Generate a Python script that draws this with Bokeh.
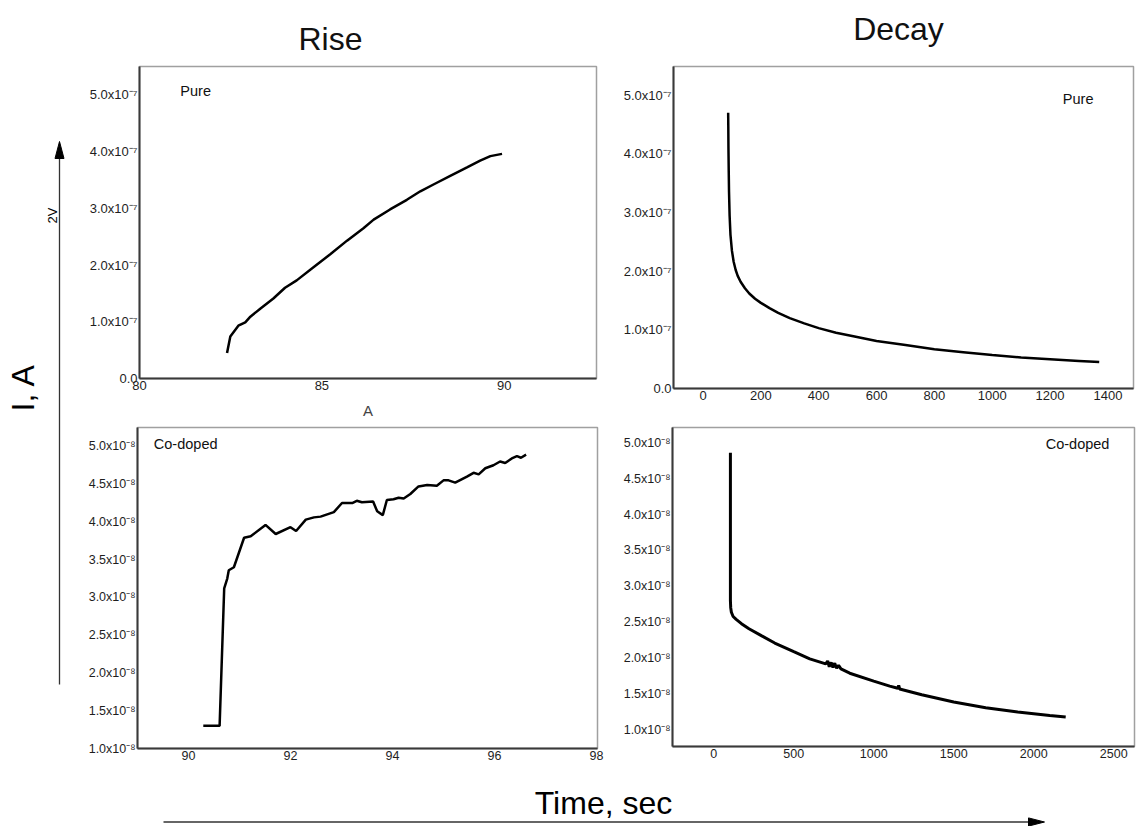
import numpy as np
from bokeh.plotting import figure
from bokeh.layouts import row, column
from bokeh.models import Range1d, FixedTicker, CustomJSTickFormatter
from bokeh.embed import file_html
from bokeh.resources import INLINE
from bokeh.core.properties import value

FONT = "Liberation Sans"

# ---------------- data ----------------
# Rise, pure (current in units of 1e-7 A)
rise_pure_t = [82.40, 82.49, 82.71, 82.90, 83.04, 83.31, 83.67, 83.99, 84.31, 84.77, 85.23, 85.69,
               86.14, 86.42, 86.87, 87.33, 87.70, 88.06, 88.52, 88.98, 89.34, 89.62, 89.94]
rise_pure_i = [0.45, 0.74, 0.93, 0.99, 1.09, 1.23, 1.41, 1.60, 1.73, 1.96, 2.19, 2.43,
               2.65, 2.80, 2.98, 3.15, 3.30, 3.42, 3.57, 3.72, 3.84, 3.92, 3.96]

# Decay, pure (units of 1e-7 A)
decay_pure_t = [87, 87.5, 88, 89, 90, 92, 95, 100, 106, 113, 120, 130, 145, 160, 180, 200, 230, 260,
                300, 350, 400, 460, 520, 600, 700, 800, 900, 1000, 1100, 1200, 1300, 1370]
decay_pure_i = [4.70, 4.45, 4.10, 3.70, 3.35, 2.95, 2.62, 2.35, 2.16, 2.02, 1.92, 1.82, 1.71, 1.62,
                1.53, 1.46, 1.37, 1.29, 1.20, 1.11, 1.03, 0.95, 0.89, 0.81, 0.74, 0.67, 0.62, 0.57,
                0.53, 0.50, 0.47, 0.45]

# Rise, co-doped (units of 1e-8 A)
rise_co_t = [90.29, 90.61, 90.70, 90.76, 90.79, 90.89, 91.09, 91.22, 91.51, 91.71, 92.00, 92.11,
             92.30, 92.46, 92.59, 92.85, 93.01, 93.21, 93.30, 93.40, 93.62, 93.70, 93.81, 93.89,
             94.02, 94.12, 94.22, 94.35, 94.51, 94.68, 94.87, 95.00, 95.10, 95.23, 95.46, 95.59,
             95.69, 95.82, 95.98, 96.11, 96.21, 96.34, 96.44, 96.52, 96.62]
rise_co_i = [1.30, 1.30, 3.12, 3.25, 3.36, 3.40, 3.79, 3.81, 3.96, 3.84, 3.93, 3.88,
             4.03, 4.06, 4.07, 4.13, 4.25, 4.25, 4.28, 4.26, 4.27, 4.14, 4.09, 4.29,
             4.30, 4.32, 4.31, 4.37, 4.47, 4.49, 4.48, 4.55, 4.55, 4.52, 4.60, 4.65,
             4.63, 4.71, 4.75, 4.80, 4.78, 4.84, 4.87, 4.85, 4.89]

# Decay, co-doped (units of 1e-8 A)
decay_co_t = [104, 104, 106, 110, 121, 140, 173, 220, 300, 381, 500, 600, 700, 712, 722, 734, 745,
              756, 768, 780, 795, 850, 1000, 1100, 1150, 1156, 1162, 1300, 1500, 1700, 1900, 2100, 2200]
decay_co_i = [4.86, 2.80, 2.70, 2.64, 2.58, 2.54, 2.48, 2.41, 2.31, 2.21, 2.09, 1.99, 1.92, 1.96,
              1.88, 1.94, 1.87, 1.93, 1.86, 1.90, 1.85, 1.79, 1.68, 1.61, 1.58, 1.62, 1.57, 1.49,
              1.39, 1.31, 1.25, 1.20, 1.18]

# ticks
tl_xticks = [80, 85, 90]
tr_xticks = [0, 200, 400, 600, 800, 1000, 1200, 1400]
bl_xticks = [90, 92, 94, 96, 98]
br_xticks = [0, 500, 1000, 1500, 2000, 2500]
top_yticks = [0.0, 1e-7, 2e-7, 3e-7, 4e-7, 5e-7]
bot_yticks = [1.0e-8, 1.5e-8, 2.0e-8, 2.5e-8, 3.0e-8, 3.5e-8, 4.0e-8, 4.5e-8, 5.0e-8]


def sci_formatter(exp):
    return CustomJSTickFormatter(args=dict(e=exp), code="""
        if (Math.abs(tick) < 1e-30) return "0.0";
        const sup = {"0":"\u2070","1":"\u00b9","2":"\u00b2","3":"\u00b3","4":"\u2074",
                     "5":"\u2075","6":"\u2076","7":"\u2077","8":"\u2078","9":"\u2079","-":"\u207b"};
        const m = (tick / Math.pow(10, e)).toFixed(1);
        const s = String(e).split("").map(c => sup[c]).join("");
        return m + "x10" + s;
    """)


def panel(xr, yr, fw, fh, bl, br, bt, bb, xticks, yticks, yexp, fs):
    p = figure(frame_width=fw, frame_height=fh, x_range=Range1d(*xr), y_range=Range1d(*yr),
               output_backend="svg", toolbar_location=None,
               min_border_left=bl, min_border_right=br, min_border_top=bt, min_border_bottom=bb)
    p.xgrid.visible = False
    p.ygrid.visible = False
    p.outline_line_color = "#a0a0a0"
    p.outline_line_width = 1.5
    for ax in (p.xaxis[0], p.yaxis[0]):
        ax.axis_line_color = "#3a3a3a"
        ax.axis_line_width = 2
        ax.major_tick_line_color = None
        ax.minor_tick_line_color = None
        ax.major_tick_out = 0
        ax.major_tick_in = 0
        ax.minor_tick_out = 0
        ax.minor_tick_in = 0
        ax.major_label_text_font = FONT
        ax.major_label_text_font_size = fs
        ax.major_label_text_color = "#1e1e1e"
        ax.major_label_standoff = 2
    p.xaxis.ticker = FixedTicker(ticks=xticks)
    p.yaxis.ticker = FixedTicker(ticks=yticks)
    p.yaxis.formatter = sci_formatter(yexp)
    return p


def strip(w, h):
    s = figure(width=w, height=h, x_range=Range1d(0, w), y_range=Range1d(0, h),
               x_axis_type=None, y_axis_type=None, output_backend="svg",
               toolbar_location=None, min_border=0)
    s.grid.visible = False
    s.outline_line_color = None
    return s


def label(p, x, y, txt, align="left", size="14.5px"):
    p.text(x=[x], y=[y], text=[txt], text_font=value(FONT), text_font_size=size,
           text_align=align, text_baseline="middle", text_color="#111111")


# ---------------- panels ----------------
tl = panel((80, 92.53), (0, 5.5e-7), 457, 312, 59, 24, 10, 45,
           tl_xticks, top_yticks, -7, "13px")
tl.line(rise_pure_t, np.array(rise_pure_i) * 1e-7, line_color="black", line_width=2.5)
tl.xaxis.axis_label = "A"
tl.xaxis.axis_label_text_font = FONT
tl.xaxis.axis_label_text_font_size = "15px"
tl.xaxis.axis_label_text_font_style = "normal"
tl.xaxis.axis_label_standoff = 9
label(tl, 81.12, 5.06e-7, "Pure")

tr = panel((-102, 1488.5), (0, 5.49e-7), 460, 322, 53, 4, 2, 43,
           tr_xticks, top_yticks, -7, "13px")
tr.line(decay_pure_t, np.array(decay_pure_i) * 1e-7, line_color="black", line_width=2.5)
label(tr, 1350, 4.93e-7, "Pure", align="right")

bl = panel((89.0, 98.02), (1.0e-8, 5.25e-8), 460, 321, 57, 23, 4, 20,
           bl_xticks, bot_yticks, -8, "12.5px")
bl.line(rise_co_t, np.array(rise_co_i) * 1e-8, line_color="black", line_width=2.5)
label(bl, 89.32, 5.03e-8, "Co-doped")

br = panel((-258, 2630), (0.769e-8, 5.213e-8), 462, 319, 51, 4, 1, 25,
           br_xticks, bot_yticks, -8, "12.5px")
br.line(decay_co_t, np.array(decay_co_i) * 1e-8, line_color="black", line_width=3)
label(br, 2473, 4.99e-8, "Co-doped", align="right")

# ---------------- strips (page coordinates, no body margin) ----------------
W = 1137
top = strip(W, 56)
label(top, 330, 18, "Rise", align="center", size="32px")
label(top, 898, 28, "Decay", align="center", size="32px")

left = strip(80, 712)
left.line([59, 59], [84, 612], line_color="#333333", line_width=1.3)
left.patch([59, 54.5, 63.5], [627, 610, 610], fill_color="black", line_color="black")
left.text(x=[22], y=[381], text=["I, A"], angle=np.pi / 2, text_font=value(FONT),
          text_font_size="32px", text_align="center", text_baseline="middle", text_color="black")
left.text(x=[52], y=[553], text=["2V"], angle=np.pi / 2, text_font=value(FONT),
          text_font_size="13px", text_align="center", text_baseline="middle", text_color="black")

bottom = strip(W, 58)
bottom.text(x=[603], y=[24], text=["Time, sec"], text_font=value(FONT), text_font_size="32px",
            text_align="center", text_baseline="middle", text_color="black")
bottom.line([163, 1030], [4.5, 4.5], line_color="#333333", line_width=1.3)
bottom.patch([1044, 1028, 1028], [4.5, 8.6, 0.4], fill_color="black", line_color="black")

grid = column(row(tl, tr), row(bl, br))
layout = column(top, row(left, grid), bottom)

open("out.html", "w").write(file_html(layout, INLINE))
